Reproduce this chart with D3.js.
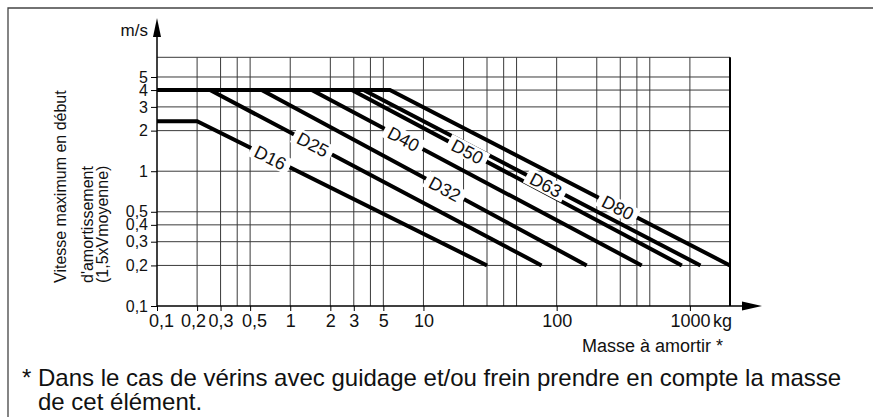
<!DOCTYPE html>
<html lang="fr">
<head>
  <meta charset="UTF-8">
  <title>Vitesse maximum en début d'amortissement</title>
  <script src="https://cdn.jsdelivr.net/npm/d3@7"></script>
  <style>
    body { margin: 0; background: #fff; }
    svg text { font-family: "Liberation Sans", Arial, sans-serif; fill: #111; }
    .grid line { stroke: #3a3a3a; stroke-width: 1; }
    .curve { fill: none; stroke: #000; stroke-width: 4; stroke-linejoin: miter; }
  </style>
</head>
<body>
<div id="chart"></div>
<script>
  var series = ["D16", "D25", "D32", "D40", "D50", "D63", "D80"];
  var seriesPoints = [
    [[0.1, 2.35], [0.2, 2.35], [30, 0.2]],
    [[0.1, 4], [0.25, 4], [77, 0.2]],
    [[0.1, 4], [0.61, 4], [168, 0.2]],
    [[0.1, 4], [1.45, 4], [435, 0.2]],
    [[0.1, 4], [2.9, 4], [870, 0.2]],
    [[0.1, 4], [3.55, 4], [1200, 0.2]],
    [[0.1, 4], [5.6, 4], [2000, 0.2]]
  ];
  var labelMass = [0.71, 1.48, 14.5, 7.1, 21.4, 83, 288];

  var xTicks = [0.1, 0.2, 0.3, 0.5, 1, 2, 3, 5, 10, 100, 1000];
  var xTickLabels = ["0,1", "0,2", "0,3", "0,5", "1", "2", "3", "5", "10", "100", "1000"];
  var xGrid = [0.2, 0.3, 0.4, 0.5, 1, 2, 3, 4, 5, 10, 20, 30, 40, 50, 100, 200, 300, 400, 500, 1000];
  var yTicks = [0.1, 0.2, 0.3, 0.4, 0.5, 1, 2, 3, 4, 5];
  var yTickLabels = ["0,1", "0,2", "0,3", "0,4", "0,5", "1", "2", "3", "4", "5"];
  var yGrid = [0.2, 0.3, 0.4, 0.5, 1, 2, 3, 4, 5, 7];

  var yTitle = ["Vitesse maximum en début", "d'amortissement", "(1,5xVmoyenne)"];
  var footnote = ["* Dans le cas de vérins avec guidage et/ou frein prendre en compte la masse",
                  "de cet élément."];

  var W = 873, H = 417;
  var x = d3.scaleLog().domain([0.1, 2000]).range([157, 730]);
  var y = d3.scaleLog().domain([0.1, 7]).range([306, 57.3]);

  var svg = d3.select("#chart").append("svg")
      .attr("width", W).attr("height", H);

  // cadre
  svg.append("path")
      .attr("d", "M8," + H + "V8H" + W)
      .attr("fill", "none").attr("stroke", "#444").attr("stroke-width", 1.3);

  // grille
  var grid = svg.append("g").attr("class", "grid");
  grid.selectAll("line.v").data(xGrid).enter().append("line")
      .attr("class", "v")
      .attr("x1", d => x(d)).attr("x2", d => x(d))
      .attr("y1", y(7)).attr("y2", y(0.1));
  grid.selectAll("line.h").data(yGrid).enter().append("line")
      .attr("class", "h")
      .attr("x1", x(0.1)).attr("x2", x(2000))
      .attr("y1", d => y(d)).attr("y2", d => y(d));
  svg.append("line")
      .attr("x1", x(2000)).attr("x2", x(2000))
      .attr("y1", y(7)).attr("y2", y(0.1))
      .attr("stroke", "#000").attr("stroke-width", 2);

  // courbes
  var line = d3.line().x(d => x(d[0])).y(d => y(d[1]));
  svg.selectAll("path.curve").data(seriesPoints).enter().append("path")
      .attr("class", "curve")
      .attr("d", line);

  // étiquettes sur les courbes
  function labelAt(pts, m) {
    for (var i = 0; i < pts.length - 1; i++) {
      var a = pts[i], b = pts[i + 1];
      if (m >= a[0] && m <= b[0]) {
        var t = (Math.log(m) - Math.log(a[0])) / (Math.log(b[0]) - Math.log(a[0]));
        var v = Math.exp(Math.log(a[1]) + t * (Math.log(b[1]) - Math.log(a[1])));
        var ang = Math.atan2(y(b[1]) - y(a[1]), x(b[0]) - x(a[0])) * 180 / Math.PI;
        return {px: x(m), py: y(v), ang: ang};
      }
    }
  }
  series.forEach(function(name, i) {
    var p = labelAt(seriesPoints[i], labelMass[i]);
    var g = svg.append("g")
        .attr("transform", "translate(" + p.px + "," + p.py + ") rotate(" + p.ang + ")");
    var bg = g.append("rect").attr("fill", "#fff");
    var txt = g.append("text")
        .attr("text-anchor", "middle")
        .attr("dy", "0.36em")
        .style("font-size", "18px")
        .text(name);
    var len = txt.node().getComputedTextLength();
    bg.attr("x", -len / 2 - 5).attr("width", len + 10)
      .attr("y", -8.5).attr("height", 17);
  });

  // axes
  var nudge = {0.1: 4, 0.2: -4, 0.5: 4};
  var xAxis = svg.append("g")
      .attr("transform", "translate(0," + y(0.1) + ")")
      .call(d3.axisBottom(x).tickValues(xTicks)
        .tickFormat((d, i) => xTickLabels[i]).tickSize(5).tickPadding(3));
  xAxis.select(".domain").remove();
  xAxis.selectAll("text")
      .attr("dx", d => nudge[d] || 0)
      .style("font-size", "18px").attr("fill", "#111");
  xAxis.selectAll("line").attr("stroke", "#000");

  var yAxis = svg.append("g")
      .attr("transform", "translate(" + x(0.1) + ",0)")
      .call(d3.axisLeft(y).tickValues(yTicks)
        .tickFormat((d, i) => yTickLabels[i]).tickSize(6).tickPadding(3));
  yAxis.select(".domain").remove();
  yAxis.selectAll("text").style("font-size", "16px").attr("fill", "#111");
  yAxis.selectAll("line").attr("stroke", "#000");

  // lignes d'axes et flèches
  svg.append("line")
      .attr("x1", x(0.1)).attr("x2", 744)
      .attr("y1", y(0.1)).attr("y2", y(0.1))
      .attr("stroke", "#000").attr("stroke-width", 1.5);
  svg.append("path")
      .attr("d", "M762," + y(0.1) + "L742," + (y(0.1) - 4.5) + "L742," + (y(0.1) + 4.5) + "Z")
      .attr("fill", "#000");
  svg.append("line")
      .attr("x1", x(0.1)).attr("x2", x(0.1))
      .attr("y1", y(0.1)).attr("y2", 35)
      .attr("stroke", "#000").attr("stroke-width", 1.5);
  svg.append("path")
      .attr("d", "M" + x(0.1) + ",18L" + (x(0.1) - 4) + ",37L" + (x(0.1) + 4) + ",37Z")
      .attr("fill", "#000");

  // unités et titres
  svg.append("text").attr("x", 148).attr("y", 36)
      .attr("text-anchor", "end").style("font-size", "17px").text("m/s");
  svg.append("text").attr("x", x(1000) + 23).attr("y", 326.7)
      .style("font-size", "18px").text("kg");
  svg.append("text").attr("x", 723).attr("y", 352)
      .attr("text-anchor", "end").style("font-size", "18px").text("Masse à amortir *");

  var titleX = [66, 93, 108];
  yTitle.forEach(function(t, i) {
    svg.append("text")
        .attr("transform", "translate(" + titleX[i] + ",283) rotate(-90)")
        .style("font-size", "16px")
        .text(t);
  });

  svg.append("text").attr("x", 22).attr("y", 386)
      .style("font-size", "24px").text(footnote[0]);
  svg.append("text").attr("x", 38).attr("y", 410)
      .style("font-size", "24px").text(footnote[1]);
</script>
</body>
</html>
